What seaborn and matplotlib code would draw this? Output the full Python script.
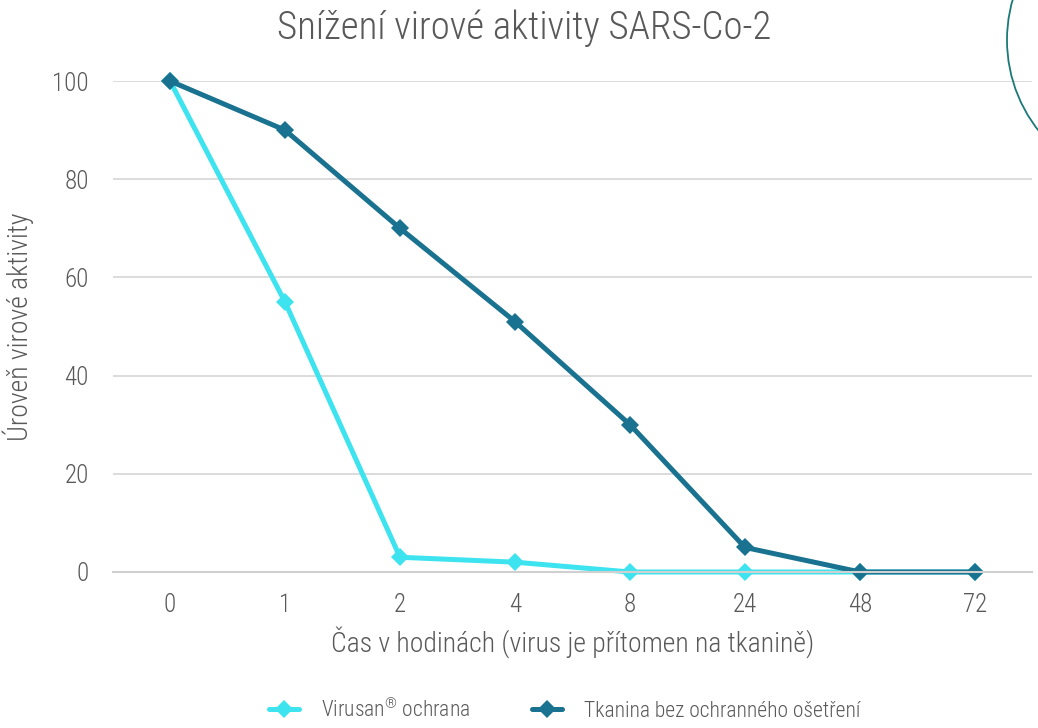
import pandas as pd
import seaborn as sns
import matplotlib.pyplot as plt
from matplotlib.patches import Circle
from matplotlib.lines import Line2D
from matplotlib.legend_handler import HandlerLine2D

# data
hours = ["0", "1", "2", "4", "8", "24", "48", "72"]
virusan = [100, 55, 3, 2, 0, 0, 0, 0]
untreated = [100, 90, 70, 51, 30, 5, 0, 0]
series_names = ["Virusan$^{®}$ ochrana", "Tkanina bez ochranného ošetření"]
colors = ["#3de3ef", "#19728f"]

df = pd.DataFrame({
    "hours": hours * 2,
    "value": virusan + untreated,
    "series": [series_names[0]] * len(hours) + [series_names[1]] * len(hours),
})

sns.set_theme(style="white")
plt.rcParams["font.family"] = ["Roboto Condensed", "Roboto", "DejaVu Sans"]
plt.rcParams["font.weight"] = "light"
plt.rcParams["axes.labelweight"] = "light"
plt.rcParams["mathtext.default"] = "regular"
grey = "#595959"


# legend handle: line with the diamond sitting at its right end
class EndMarker(HandlerLine2D):
    def get_xdata(self, legend, xdescent, ydescent, width, height, fontsize):
        xdata, _ = super().get_xdata(legend, xdescent, ydescent, width,
                                     height, fontsize)
        return xdata, [-xdescent + width * 0.85]


fig = plt.figure(figsize=(10.38, 7.28), dpi=100)
ax = fig.add_axes([0.1084, 0.2143, 0.8863, 0.6744])

for name, col in zip(series_names, colors):
    sub = df[df["series"] == name]
    sns.lineplot(data=sub, x="hours", y="value", ax=ax, color=col, lw=3.6,
                 marker="D", markersize=9, markeredgewidth=0, sort=False,
                 legend=False, clip_on=False)

ax.set_xlim(-0.5, len(hours) - 0.5)
ax.set_ylim(0, 100)
ax.set_yticks(range(0, 101, 20))
ax.grid(axis="y", color="#d9d9d9", lw=1.3)
ax.set_axisbelow(True)
for s in ["top", "right", "left"]:
    ax.spines[s].set_visible(False)
ax.spines["bottom"].set_color("#d0d0d0")
ax.spines["bottom"].set_linewidth(1.5)
ax.tick_params(axis="both", length=0, labelsize=18, colors=grey)
ax.tick_params(axis="x", pad=15)
ax.tick_params(axis="y", pad=17)

ax.set_xlabel("Čas v hodinách (virus je přítomen na tkanině)", fontsize=20,
              color=grey, labelpad=7)
ax.set_ylabel("Úroveň virové aktivity", fontsize=20, color=grey, labelpad=13)
fig.text(0.505, 0.961, "Snížení virové aktivity SARS-Co-2", ha="center",
         va="center", fontsize=28, color=grey)

handles = [Line2D([], [], color=c, lw=3.6, marker="D", markersize=9,
                  markeredgewidth=0) for c in colors]
fig.legend(handles, series_names, loc="center", bbox_to_anchor=(0.544, 0.025),
           ncol=2, frameon=False, fontsize=15.5, labelcolor=grey,
           handlelength=1.4, handletextpad=1.0, numpoints=1,
           columnspacing=2.9,
           handler_map={Line2D: EndMarker(numpoints=1)})

# decorative arc in the top right corner
circ = Circle((1153, 728 - 40), 146, transform=None, fill=False,
              edgecolor="#1a7a75", lw=1.3)
fig.patches.append(circ)

fig.savefig("out.png", dpi=100)
